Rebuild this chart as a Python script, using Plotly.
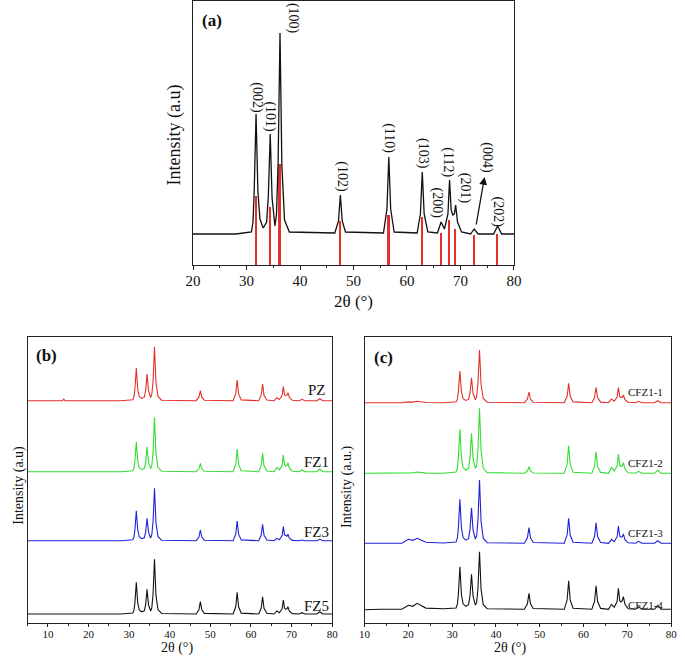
import plotly.graph_objects as go

# ---------------- data ----------------
# shared 2-theta knots (degrees) at which the patterns are read
two_theta = [5, 10, 13.6, 13.9, 14.2, 18.5, 20, 21, 22, 24, 28,
             30.9, 31.2, 31.42, 31.77, 32.12, 32.5, 33.1, 33.75, 34.07, 34.42, 34.77, 35.3, 35.6, 35.9, 36.25, 36.6, 37.1, 38.0,
             46.5, 47.19, 47.54, 47.89, 48.5,
             55.6, 56.25, 56.6, 56.95, 57.6,
             61.9, 62.51, 62.86, 63.21, 63.9,
             65.7, 66.38, 67.0, 67.66, 67.96, 68.26, 68.55, 68.85, 69.1, 69.45, 70.2,
             71.9, 72.56, 73.3, 76.2, 76.95, 77.7, 80]

# panel (a) pattern (relative intensity above baseline)
a_pattern = [0, 0, 0, 0, 0, 0, 0, 0, 0, 0, 0,
             2, 12, 42, 120, 42, 15, 6, 12, 38, 100, 36, 8, 20, 72, 201, 68, 14, 2,
             1, 13, 39, 13, 2,
             1, 25, 77, 25, 2,
             1, 20, 62, 20, 2,
             1, 12, 5, 20, 54, 24, 19, 20, 29, 12, 2,
             0, 5, 0, 0, 8, 0, 0]
a_baseline = 31

# reference (standard) reflections
ref_pos = [31.77, 34.42, 36.25, 47.54, 56.60, 62.86, 66.38, 67.96, 69.10, 72.56, 76.95]
ref_int = [69, 58, 101, 44, 50, 48, 32, 45, 36, 30, 31]
hkl = ["(002)", "(101)", "(100)", "(102)", "(110)", "(103)", "(200)", "(112)", "(201)", "(004)", "(202)"]
hkl_x = [31.9, 34.3, 38.7, 47.8, 56.6, 63.0, 65.7, 67.6, 70.9, 74.9, 77.1]
hkl_y = [167, 148, 247, 88, 127, 112, 62, 103, 77, 107, 53]

# panel (b)
b_names = ["PZ", "FZ1", "FZ3", "FZ5"]
b_offsets = [222.3, 151.3, 82.3, 9]
b_PZ = [0, 0, 0, 1.5, 0, 0, 0, 0, 0, 0, 0,
        1.0, 3.9, 11.4, 32.7, 11.4, 4.3, 2.3, 3.5, 10.1, 26.7, 10.1, 3.2, 6.5, 20.0, 54, 18.9, 4.3, 0.5,
        0, 3.5, 10, 3.5, 0.5,
        0, 6.8, 20.7, 6.8, 0.8,
        0, 5.5, 16.7, 5.5, 0.7,
        0, 3, 1.2, 5.2, 14, 5.9, 4.9, 5.5, 8, 3.2, 0.4,
        0, 1.4, 0, 0, 2, 0, 0]
b_FZ1 = [0, 0, 0, 0, 0, 0, 0, 0, 0, 0, 0,
         0.9, 3.6, 10.5, 30, 10.5, 3.9, 2.1, 3.3, 9.5, 25, 9.5, 3.0, 6.5, 20.1, 54.4, 19.0, 4.4, 0.5,
         0, 2.9, 8.4, 2.9, 0.4,
         0, 7.5, 22.7, 7.5, 0.9,
         0, 6.1, 18.4, 6.1, 0.7,
         0, 4.4, 1.8, 6.2, 16.7, 7.0, 5.8, 6.2, 9, 3.6, 0.5,
         0, 1.7, 0, 0, 2.7, 0, 0]
b_FZ3 = [0, 0, 0, 0, 0, 0, 0, 0, 0, 0, 0,
         0.9, 3.6, 10.5, 30, 10.5, 3.9, 2.1, 2.9, 8.5, 22.4, 8.5, 2.7, 6.3, 19.4, 52.4, 18.3, 4.2, 0.5,
         0, 3.7, 10.7, 3.7, 0.5,
         0, 6.5, 19.7, 6.5, 0.8,
         0, 5.4, 16.4, 5.4, 0.7,
         0, 2.4, 1.0, 5.2, 14, 5.9, 4.9, 4.4, 6.4, 2.6, 0.3,
         0, 0.7, 0, 0, 1.4, 0, 0]
b_FZ5 = [0, 0, 0, 0, 0, 0, 0, 0, 0, 0, 0,
         1.0, 3.8, 11.1, 31.7, 11.1, 4.1, 2.2, 3.2, 9.4, 24.7, 9.4, 3.0, 6.6, 20.2, 54.7, 19.1, 4.4, 0.5,
         0, 4.3, 12.3, 4.3, 0.6,
         0, 7.2, 21.7, 7.2, 0.9,
         0, 5.7, 17.3, 5.7, 0.7,
         0, 3, 1.2, 5.2, 14, 5.9, 4.9, 5.0, 7.3, 2.9, 0.4,
         0, 1.3, 0, 0, 2.3, 0, 0]

# panel (c)
c_names = ["CFZ1-1", "CFZ1-2", "CFZ1-3", "CFZ1-4"]
c_offsets = [220.3, 149.7, 79.7, 13.7]
c_1 = [0, 0, 0, 0, 0, 0, 0.8, 0.6, 1.4, 0.2, 0,
       1.0, 3.8, 11.1, 31.7, 11.1, 4.1, 2.2, 3.3, 9.5, 25, 9.5, 3.0, 6.3, 19.5, 52.7, 18.4, 4.2, 0.5,
       0, 3.7, 10.7, 3.7, 0.5,
       0, 6.4, 19.4, 6.4, 0.8,
       0, 5.1, 15.4, 5.1, 0.6,
       0, 3.7, 1.5, 5.6, 15, 6.3, 5.3, 5.3, 7.7, 3.1, 0.4,
       0, 1.4, 0, 0, 2, 0, 0]
c_2 = [0, 0, 0, 0, 0, 0, 0.5, 0.4, 1.3, 0.2, 0,
       1.3, 5.3, 15.4, 44, 15.4, 5.7, 3.1, 5.2, 15.2, 40, 15.2, 4.8, 7.8, 24.1, 65, 22.8, 5.2, 0.7,
       0, 2.3, 6.6, 2.3, 0.3,
       0, 9.1, 27.6, 9.1, 1.1,
       0, 7.1, 21.6, 7.1, 0.9,
       0, 6, 2.4, 7.1, 19.3, 8.1, 6.8, 7.3, 10.6, 4.2, 0.5,
       0, 2, 0, 0, 3, 0, 0]
c_3 = [0, 0, 0, 0, 0, 0, 4, 3, 5, 1.0, 0.3,
       1.3, 5.3, 15.4, 44, 15.4, 5.7, 3.1, 4.6, 13.5, 35.6, 13.5, 4.3, 7.6, 23.4, 63.3, 22.2, 5.1, 0.6,
       0, 5.5, 15.6, 5.5, 0.8,
       0, 8.3, 25, 8.3, 1.0,
       0, 6.8, 20.6, 6.8, 0.8,
       0, 4, 1.6, 6.4, 17.3, 7.3, 6.1, 6.4, 9.3, 3.7, 0.5,
       0, 2, 0, 0, 2.6, 0, 0]
c_4 = [0, -0.5, 0, 0, 0, 0, 4, 3, 6, 1.2, 0.5,
       1.3, 5.1, 14.9, 42.6, 14.9, 5.5, 3.0, 4.6, 13.3, 35, 13.3, 4.2, 6.9, 21.3, 57.6, 20.2, 4.6, 0.6,
       0, 5.6, 16, 5.6, 0.8,
       0, 9.4, 28.6, 9.4, 1.1,
       0, 7.8, 23.6, 7.8, 0.9,
       0, 5, 2.0, 7.8, 21, 8.8, 7.4, 8.7, 12.6, 5.0, 0.6,
       0, 2.6, 0, 0, 4, 0, 0]

x_ticks_a = [20, 30, 40, 50, 60, 70, 80]
x_ticks_b = [10, 20, 30, 40, 50, 60, 70, 80]
x_ticks_c = [10, 20, 30, 40, 50, 60, 70, 80]

# ---------------- figure ----------------
W, H = 685, 657
FONT = "Liberation Serif"
RED, GREEN, BLUE, BLACK = "#e3302b", "#33dd33", "#2020d8", "#111111"


def px(x):
    return x / W


def py(y):
    return 1 - y / H


fig = go.Figure()

# panel (a)
fig.add_trace(go.Scatter(x=two_theta, y=[v + a_baseline for v in a_pattern], mode="lines",
                         line=dict(color=BLACK, width=1.3), xaxis="x", yaxis="y", showlegend=False))
fig.add_trace(go.Bar(x=ref_pos, y=ref_int, width=0.35, marker=dict(color=RED, line=dict(width=0)),
                     xaxis="x", yaxis="y", showlegend=False))

# panel (b)
for name, off, vals, col in zip(b_names, b_offsets, [b_PZ, b_FZ1, b_FZ3, b_FZ5], [RED, GREEN, BLUE, BLACK]):
    fig.add_trace(go.Scatter(x=two_theta, y=[v + off for v in vals], mode="lines",
                             line=dict(color=col, width=1.1), xaxis="x2", yaxis="y2", showlegend=False))

# panel (c)
for name, off, vals, col in zip(c_names, c_offsets, [c_1, c_2, c_3, c_4], [RED, GREEN, BLUE, BLACK]):
    fig.add_trace(go.Scatter(x=two_theta, y=[v + off for v in vals], mode="lines",
                             line=dict(color=col, width=1.1), xaxis="x3", yaxis="y3", showlegend=False))

axis_common = dict(showline=True, linecolor="#222", linewidth=1, mirror=True, showgrid=False,
                   zeroline=False, ticks="outside", tickcolor="#222")

fig.update_layout(
    width=W, height=H, margin=dict(l=0, r=0, t=0, b=0),
    paper_bgcolor="white", plot_bgcolor="white",
    font=dict(family=FONT, color="#111"),
    bargap=0,
    xaxis=dict(domain=[px(190), px(517.5)], range=[20, 80], tickvals=x_ticks_a, ticklen=4,
               ticklabelstandoff=-2,
               tickfont=dict(size=15, family=FONT), minor=dict(dtick=5, ticks="outside", ticklen=2, tickcolor="#222"),
               anchor="y", **axis_common),
    yaxis=dict(domain=[py(265), py(1)], range=[0, 264], showticklabels=False, anchor="x",
               **{**axis_common, "ticks": ""}),
    xaxis2=dict(domain=[px(21), px(332)], range=[5, 80], tickvals=x_ticks_b, ticklen=3,
                ticklabelstandoff=-2,
                tickfont=dict(size=11, family=FONT), minor=dict(dtick=5, ticks="outside", ticklen=2, tickcolor="#222"),
                anchor="y2", **axis_common),
    yaxis2=dict(domain=[py(623), py(337)], range=[0, 286], showticklabels=False, anchor="x2",
                **{**axis_common, "ticks": ""}),
    xaxis3=dict(domain=[px(365), px(678)], range=[10, 80], tickvals=x_ticks_c, ticklen=3,
                ticklabelstandoff=-2,
                tickfont=dict(size=11, family=FONT), minor=dict(dtick=5, ticks="outside", ticklen=2, tickcolor="#222"),
                anchor="y3", **axis_common),
    yaxis3=dict(domain=[py(623), py(337)], range=[0, 286], showticklabels=False, anchor="x3",
                **{**axis_common, "ticks": ""}),
)

ann = []
C = dict(showarrow=False, xanchor="center", yanchor="middle")
# axis titles
ann.append(dict(text="2θ (°)", x=px(354), y=py(301), xref="paper", yref="paper",
                font=dict(size=17, family=FONT), **C))
ann.append(dict(text="Intensity (a.u)", x=px(171), y=py(135), xref="paper", yref="paper",
                textangle=-90, font=dict(size=18, family=FONT), **C))
ann.append(dict(text="2θ (°)", x=px(174), y=py(648), xref="paper", yref="paper",
                font=dict(size=14, family=FONT), **C))
ann.append(dict(text="Intensity (a.u)", x=px(12), y=py(485), xref="paper", yref="paper",
                textangle=-90, font=dict(size=14, family=FONT), **C))
ann.append(dict(text="2θ (°)", x=px(513), y=py(648), xref="paper", yref="paper",
                font=dict(size=14, family=FONT), **C))
ann.append(dict(text="Intensity (a.u.)", x=px(347), y=py(487), xref="paper", yref="paper",
                textangle=-90, font=dict(size=14, family=FONT), **C))
# panel letters
for t, x, y in [("(a)", 209, 20), ("(b)", 40, 355), ("(c)", 384, 357)]:
    ann.append(dict(text="<b>" + t + "</b>", x=px(x), y=py(y), xref="paper", yref="paper",
                    font=dict(size=17, family=FONT), **C))
# hkl labels
for t, x, y in zip(hkl, hkl_x, hkl_y):
    ann.append(dict(text=t, x=x, y=y, xref="x", yref="y", textangle=90,
                    font=dict(size=14, family=FONT), **C))
# arrow to (004)
ann.append(dict(text="", x=74.5, y=88, ax=72.9, ay=39, xref="x", yref="y", axref="x", ayref="y",
                showarrow=True, arrowhead=2, arrowsize=1.2, arrowwidth=1.3, arrowcolor="#111"))
# sample labels
for t, y in zip(b_names, [390, 462, 532, 606]):
    ann.append(dict(text=t, x=px(316), y=py(y), xref="paper", yref="paper",
                    font=dict(size=15, family=FONT), **C))
for t, y in zip(c_names, [392, 463, 533, 605]):
    ann.append(dict(text=t, x=px(652), y=py(y), xref="paper", yref="paper",
                    font=dict(size=11, family=FONT), **C))

fig.update_layout(annotations=ann)
fig.write_html("out.html", config={"displayModeBar": False},
               post_script="document.body.style.margin='0px'; document.body.style.overflow='hidden';")
